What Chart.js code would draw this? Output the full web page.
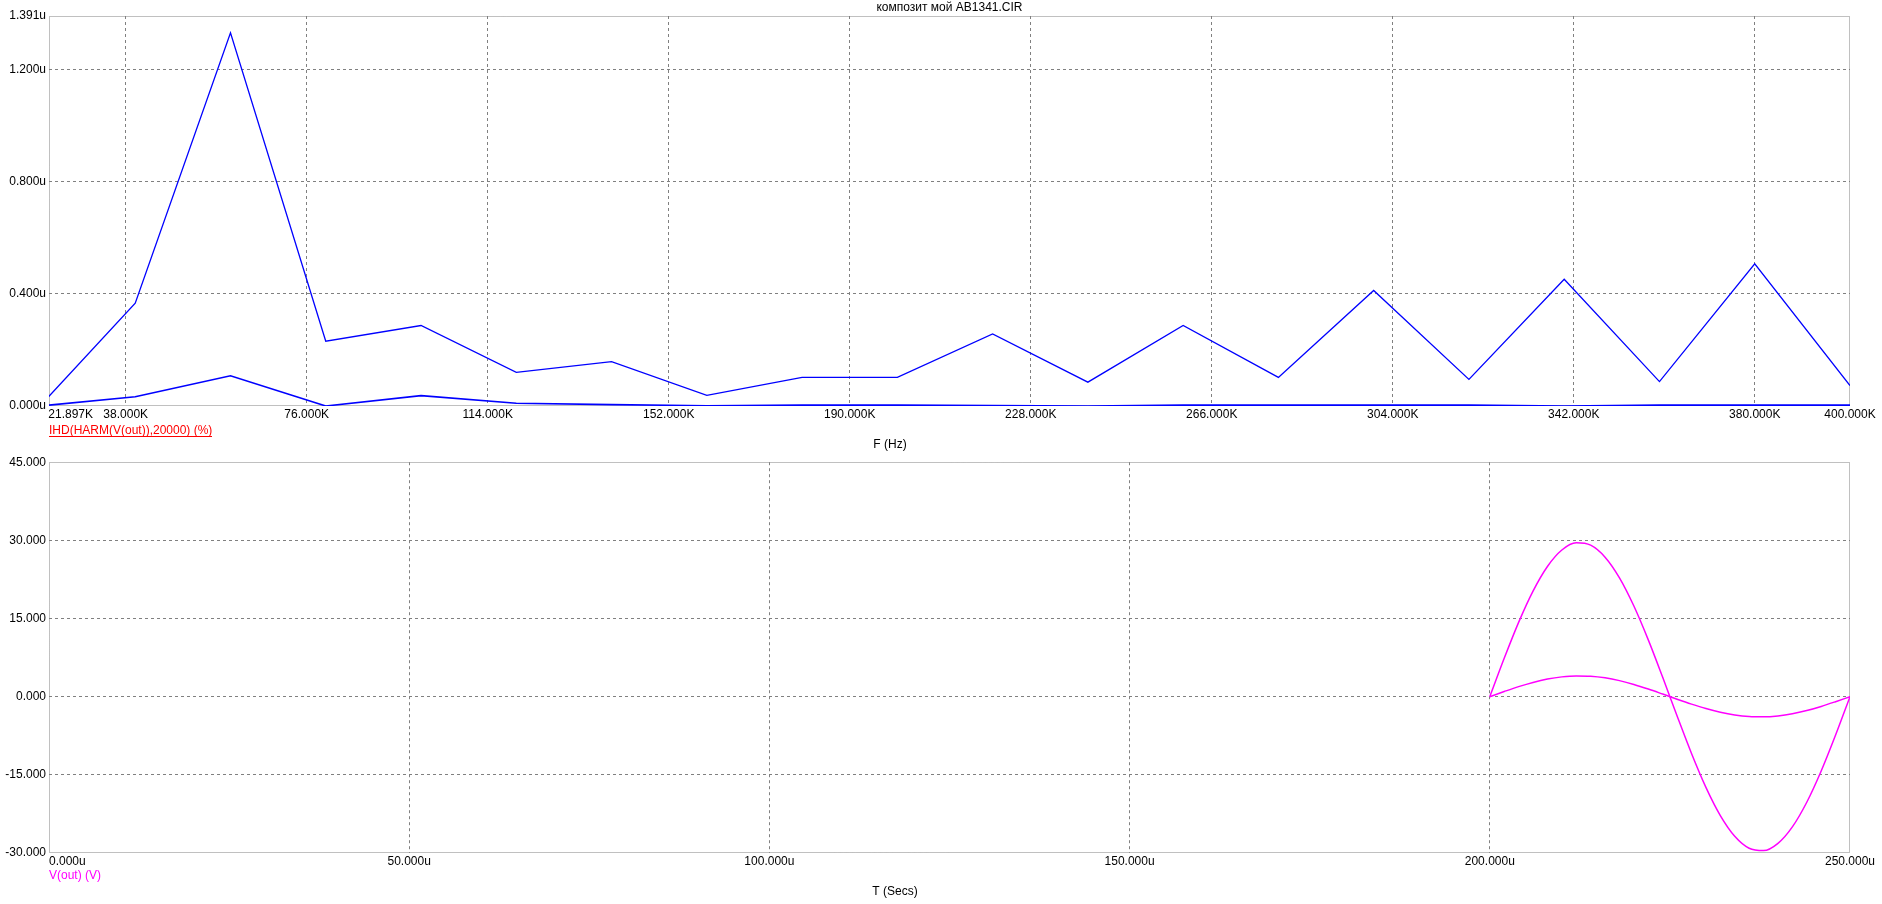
<!DOCTYPE html>
<html><head><meta charset="utf-8">
<script src="https://cdn.jsdelivr.net/npm/chart.js@4.4.1/dist/chart.umd.min.js"></script>
<style>
html,body{margin:0;padding:0;background:#fff;overflow:hidden;width:1882px;height:904px}
#w1{position:absolute;left:0;top:0;width:1882px;height:452px}
#w2{position:absolute;left:0;top:452px;width:1882px;height:452px}
</style></head><body>
<div id="w1"><canvas id="c1"></canvas></div>
<div id="w2"><canvas id="c2"></canvas></div>
<script>
const FONT = '"Liberation Sans", Arial, sans-serif';
const titleText = 'композит мой AB1341.CIR';

// ---- top plot: IHD spectrum ----
const freqK = [20, 40, 60, 80, 100, 120, 140, 160, 180, 200, 220, 240, 260, 280, 300, 320, 340, 360, 380, 400];
const ihdHigh = [0, 0.367, 1.331, 0.231, 0.287, 0.120, 0.158, 0.038, 0.102, 0.102, 0.257, 0.085, 0.287, 0.102, 0.412, 0.095, 0.452, 0.087, 0.507, 0.073];
const ihdLow = [0, 0.033, 0.108, 0.000, 0.037, 0.010, 0.005, 0.001, 0.003, 0.003, 0.002, 0.000, 0.003, 0.003, 0.003, 0.003, 0.000, 0.003, 0.003, 0.003];
const freqTickValues = [21.897, 38, 76, 114, 152, 190, 228, 266, 304, 342, 380, 400];
const freqTickLabels = ['21.897K', '38.000K', '76.000K', '114.000K', '152.000K', '190.000K', '228.000K', '266.000K', '304.000K', '342.000K', '380.000K', '400.000K'];
const ihdTickValues = [0, 0.4, 0.8, 1.2, 1.391];
const ihdTickLabels = ['0.000u', '0.400u', '0.800u', '1.200u', '1.391u'];
const ihdSeriesName = 'IHD(HARM(V(out)),20000) (%)';
const freqAxisName = 'F (Hz)';

// ---- bottom plot: V(out) transient ----
const timeU = [200, 202, 204, 206, 208, 210, 212, 214, 216, 218, 220, 222, 224, 226, 228, 230, 232, 234, 236, 238, 240, 242, 244, 246, 248, 250];
const voutHigh = [0, 7.36, 14.26, 20.26, 24.99, 28.15, 29.54, 29.08, 26.78, 22.81, 17.40, 10.90, 3.71, -3.71, -10.90, -17.40, -22.81, -26.78, -29.08, -29.54, -28.15, -24.99, -20.26, -14.26, -7.36, 0];
const voutLow = [0, 0.99, 1.93, 2.74, 3.38, 3.80, 3.99, 3.93, 3.62, 3.08, 2.35, 1.47, 0.50, -0.49, -1.43, -2.28, -2.99, -3.51, -3.81, -3.87, -3.69, -3.28, -2.66, -1.87, -0.96, 0];
const timeTickValues = [0, 50, 100, 150, 200, 250];
const timeTickLabels = ['0.000u', '50.000u', '100.000u', '150.000u', '200.000u', '250.000u'];
const voltTickValues = [-30, -15, 0, 15, 30, 45];
const voltTickLabels = ['-30.000', '-15.000', '0.000', '15.000', '30.000', '45.000'];
const voutSeriesName = 'V(out) (V)';
const timeAxisName = 'T (Secs)';

// first x label starts at the left edge: pad with leading spaces
const mctx = document.createElement('canvas').getContext('2d');
mctx.font = '12px ' + FONT;
function leftStart(s) {
  const w = mctx.measureText(s).width, sp = mctx.measureText(' ').width;
  return ' '.repeat(Math.round(w / sp)) + s;
}

const framePlugin = {
  id: 'frame',
  beforeDatasetsDraw(chart) {
    const a = chart.chartArea, c = chart.ctx;
    c.save();
    c.strokeStyle = '#808080'; c.lineWidth = 1; c.setLineDash([1, 1]);
    c.strokeRect(Math.round(a.left) + 0.5, Math.round(a.top) + 0.5, Math.round(a.right - a.left) - 1, Math.round(a.bottom - a.top) - 1);
    c.restore();
  }
};
const captionPlugin = {
  id: 'captions',
  afterDraw(chart, args, o) {
    const a = chart.chartArea, c = chart.ctx;
    c.save();
    c.font = '12px ' + FONT;
    c.textBaseline = 'middle';
    c.textAlign = 'left';
    c.fillStyle = o.seriesColor;
    const y1 = a.bottom + o.seriesDy;
    c.fillText(o.seriesText, a.left, y1);
    if (o.underline) {
      const w = c.measureText(o.seriesText).width;
      c.fillRect(Math.round(a.left), Math.round(y1 + 5), Math.round(w), 1);
    }
    c.textAlign = 'center';
    c.fillStyle = '#000';
    c.fillText(o.axisText, o.axisX, a.bottom + o.axisDy);
    c.restore();
  }
};

function makeChart(id, cfg) {
  const edgeColor = (vals) => (ctx) => {
    const v = ctx.tick ? ctx.tick.value : null;
    return (v === vals[0] || v === vals[vals.length - 1]) ? 'rgba(0,0,0,0)' : '#808080';
  };
  return new Chart(document.getElementById(id), {
    type: 'line',
    data: { datasets: cfg.datasets },
    options: {
      responsive: true, maintainAspectRatio: false, animation: false, devicePixelRatio: 1,
      layout: { padding: cfg.padding },
      elements: { point: { radius: 0 } },
      plugins: {
        legend: { display: false },
        tooltip: { enabled: false },
        title: cfg.title ? {
          display: true, text: cfg.title, fullSize: false, color: '#000',
          font: { size: 12, family: FONT, weight: 'normal', lineHeight: 1 },
          padding: { top: 2, bottom: 2 }
        } : { display: false },
        captions: cfg.captions
      },
      scales: {
        x: {
          type: 'linear', min: cfg.xVals[0], max: cfg.xVals[cfg.xVals.length - 1],
          afterBuildTicks: (s) => { s.ticks = cfg.xVals.map(v => ({ value: v })); },
          afterFit: (s) => { s.height = 20; },
          ticks: {
            autoSkip: false, maxRotation: 0, padding: 1, color: '#000',
            font: { size: 12, family: FONT },
            callback: (v, i) => i === 0 ? leftStart(cfg.xLabels[i]) : cfg.xLabels[i]
          },
          grid: { color: edgeColor(cfg.xVals), lineWidth: 1, drawTicks: false },
          border: { display: false, dash: [3, 3] }
        },
        y: {
          type: 'linear', min: cfg.yVals[0], max: cfg.yVals[cfg.yVals.length - 1],
          afterBuildTicks: (s) => { s.ticks = cfg.yVals.map(v => ({ value: v })); },
          afterFit: (s) => { s.width = 49; },
          ticks: {
            autoSkip: false, padding: 3, color: '#000',
            font: { size: 12, family: FONT },
            callback: (v, i) => cfg.yLabels[i]
          },
          grid: { color: edgeColor(cfg.yVals), lineWidth: 1, drawTicks: false },
          border: { display: false, dash: [3, 3] }
        }
      }
    },
    plugins: [framePlugin, captionPlugin]
  });
}

const toXY = (xs, ys) => xs.map((x, i) => ({ x: x, y: ys[i] }));

makeChart('c1', {
  title: titleText,
  padding: { left: 0, right: 32, top: 0, bottom: 26 },
  xVals: freqTickValues, xLabels: freqTickLabels,
  yVals: ihdTickValues, yLabels: ihdTickLabels,
  datasets: [
    { label: ihdSeriesName, data: toXY(freqK, ihdHigh), borderColor: '#0000ff', borderWidth: 1.3, tension: 0, fill: false },
    { label: ihdSeriesName, data: toXY(freqK, ihdLow), borderColor: '#0000ff', borderWidth: 1.6, tension: 0, fill: false }
  ],
  captions: { seriesText: ihdSeriesName, seriesColor: '#ff0000', underline: true, seriesDy: 24.5, axisText: freqAxisName, axisX: 890, axisDy: 38.5 }
});

makeChart('c2', {
  title: null,
  padding: { left: 0, right: 32, top: 9, bottom: 31 },
  xVals: timeTickValues, xLabels: timeTickLabels,
  yVals: voltTickValues, yLabels: voltTickLabels,
  datasets: [
    { label: voutSeriesName, data: toXY(timeU, voutHigh), borderColor: '#ff00ff', borderWidth: 1.5, cubicInterpolationMode: 'monotone', fill: false },
    { label: voutSeriesName, data: toXY(timeU, voutLow), borderColor: '#ff00ff', borderWidth: 1.5, cubicInterpolationMode: 'monotone', fill: false }
  ],
  captions: { seriesText: voutSeriesName, seriesColor: '#ff00ff', underline: false, seriesDy: 23, axisText: timeAxisName, axisX: 895, axisDy: 39 }
});
</script>
</body></html>
